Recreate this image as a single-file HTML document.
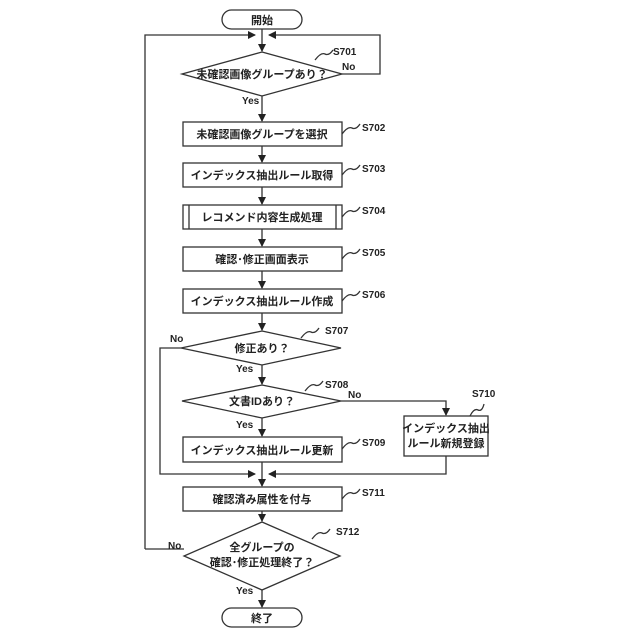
<!DOCTYPE html>
<html><head><meta charset="utf-8"><style>body{margin:0;background:#fff}svg{display:block}text{font-family:"Liberation Sans","Noto Sans CJK JP",sans-serif;font-weight:bold;fill:#222}</style></head><body>
<svg width="640" height="640" viewBox="0 0 640 640" xmlns="http://www.w3.org/2000/svg">
<defs><marker id="a" markerWidth="8" markerHeight="8" refX="7" refY="4" orient="auto" markerUnits="userSpaceOnUse"><path d="M0,0 L8,4 L0,8 z" fill="#222"/></marker></defs>
<g stroke="#333" stroke-width="1.3" fill="none">
<rect x="222" y="10" width="80" height="19" rx="9.5"/>
<rect x="222" y="608" width="80" height="19" rx="9.5"/>
<path d="M262 29 V51" marker-end="url(#a)"/>
<path d="M145 549 V35 H255" marker-end="url(#a)"/>
<path d="M342 74 H380 V35 H269" marker-end="url(#a)"/>
<polygon points="262,52 342,74 262,96 182,74"/>
<path d="M262 96 V121" marker-end="url(#a)"/>
<rect x="183" y="122" width="159" height="24"/>
<path d="M262 146 V162" marker-end="url(#a)"/>
<rect x="183" y="163" width="159" height="24"/>
<path d="M262 187 V204" marker-end="url(#a)"/>
<rect x="183" y="205" width="159" height="24"/>
<path d="M189 205 V229 M336 205 V229"/>
<path d="M262 229 V246" marker-end="url(#a)"/>
<rect x="183" y="247" width="159" height="24"/>
<path d="M262 271 V288" marker-end="url(#a)"/>
<rect x="183" y="289" width="159" height="24"/>
<path d="M262 313 V330" marker-end="url(#a)"/>
<polygon points="262,331 341,348 262,365 181,348"/>
<path d="M181 348 H160 V474 H255" marker-end="url(#a)"/>
<path d="M262 365 V384" marker-end="url(#a)"/>
<polygon points="262,385 341,401 262,418 182,401"/>
<path d="M341 401 H446 V415" marker-end="url(#a)"/>
<rect x="404" y="416" width="84" height="40"/>
<path d="M446 456 V474 H269" marker-end="url(#a)"/>
<path d="M262 418 V436" marker-end="url(#a)"/>
<rect x="183" y="437" width="159" height="25"/>
<path d="M262 462 V486" marker-end="url(#a)"/>
<rect x="183" y="487" width="159" height="24"/>
<path d="M262 511 V521" marker-end="url(#a)"/>
<polygon points="262,522 340,556 262,590 184,556"/>
<path d="M184 549 H145"/>
<path d="M262 590 V607" marker-end="url(#a)"/>
<path d="M315 60 q6 -8 10 -6 t8 -4 M342 134 q6 -8 10 -6 t8 -4 M342 175 q6 -8 10 -6 t8 -4 M342 217 q6 -8 10 -6 t8 -4 M342 259 q6 -8 10 -6 t8 -4 M342 301 q6 -8 10 -6 t8 -4 M301 338 q6 -8 10 -6 t8 -4 M305 391 q6 -8 10 -6 t8 -4 M342 449 q6 -8 10 -6 t8 -4 M470 416 q4 -8 8 -6 t6 -6 M342 499 q6 -8 10 -6 t8 -4 M312 539 q6 -8 10 -6 t8 -4"/>
</g>
<g font-size="11" text-anchor="middle">
<text x="262" y="24">開始</text>
<text x="262" y="622">終了</text>
<text x="262" y="78">未確認画像グループあり？</text>
<text x="262" y="138">未確認画像グループを選択</text>
<text x="262" y="179">インデックス抽出ルール取得</text>
<text x="262" y="221">レコメンド内容生成処理</text>
<text x="262" y="263">確認･修正画面表示</text>
<text x="262" y="305">インデックス抽出ルール作成</text>
<text x="262" y="352">修正あり？</text>
<text x="262" y="405">文書IDあり？</text>
<text x="262" y="454">インデックス抽出ルール更新</text>
<text x="446" y="432">インデックス抽出</text>
<text x="446" y="447">ルール新規登録</text>
<text x="262" y="503">確認済み属性を付与</text>
<text x="262" y="551">全グループの</text>
<text x="262" y="566">確認･修正処理終了？</text>
</g>
<g font-size="10">
<text x="242" y="104">Yes</text><text x="342" y="70">No</text>
<text x="236" y="372">Yes</text><text x="170" y="342">No</text>
<text x="236" y="428">Yes</text><text x="348" y="398">No</text>
<text x="236" y="594">Yes</text><text x="168" y="549">No</text>
<text x="333" y="55">S701</text><text x="362" y="131">S702</text><text x="362" y="172">S703</text>
<text x="362" y="214">S704</text><text x="362" y="256">S705</text><text x="362" y="298">S706</text>
<text x="325" y="334">S707</text><text x="325" y="388">S708</text><text x="362" y="446">S709</text>
<text x="472" y="397">S710</text><text x="362" y="496">S711</text><text x="336" y="535">S712</text>
</g>
</svg>
</body></html>
